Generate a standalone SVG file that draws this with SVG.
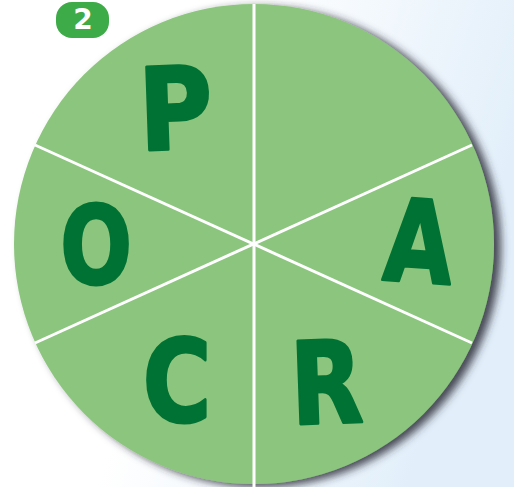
<svg xmlns="http://www.w3.org/2000/svg" width="514" height="487" viewBox="0 0 514 487">
<defs>
<linearGradient id="bg" x1="0" y1="0" x2="1" y2="0.3">
<stop offset="0.45" stop-color="#ffffff"/>
<stop offset="1" stop-color="#e2effa"/>
</linearGradient>
<filter id="sh" x="-10%" y="-10%" width="125%" height="125%">
<feDropShadow dx="7" dy="3" stdDeviation="4" flood-color="#2a2a35" flood-opacity="0.85"/>
</filter>
<style>
.sep{stroke:#ffffff;stroke-width:3;fill:none}
.let{font-family:"DejaVu Sans",sans-serif;font-weight:bold;font-size:114px;fill:#007234;stroke:#007234;stroke-width:3;stroke-linejoin:round;text-anchor:middle}
</style>
</defs>
<rect width="514" height="487" fill="url(#bg)"/>
<g id="wheel">
<circle cx="254" cy="244" r="240" fill="#8cc57e" filter="url(#sh)"/>
</g>
<g id="connectors">
<line class="sep" x1="254" y1="4" x2="254" y2="487"/>
<line class="sep" x1="35" y1="145" x2="472" y2="343"/>
<line class="sep" x1="35" y1="343" x2="472" y2="145"/>
</g>
<g id="badge">
<rect x="56" y="2" width="53" height="36" rx="16" fill="#3dab48"/>
<text x="83" y="29" font-family="DejaVu Sans, sans-serif" font-weight="bold" font-size="28" fill="#ffffff" text-anchor="middle">2</text>
</g>
<g id="P"><text class="let" transform="translate(177,149) rotate(-2) scale(0.88,1)">P</text></g>
<g id="O"><text class="let" transform="translate(96,283) scale(0.74,0.95)">O</text></g>
<g id="A"><text class="let" transform="translate(416,282) rotate(4) scale(0.78,1)">A</text></g>
<g id="C"><text class="let" transform="translate(177,421) scale(0.82,1)">C</text></g>
<g id="R"><text class="let" transform="translate(328,423) rotate(-2) scale(0.82,1)">R</text></g>
</svg>
